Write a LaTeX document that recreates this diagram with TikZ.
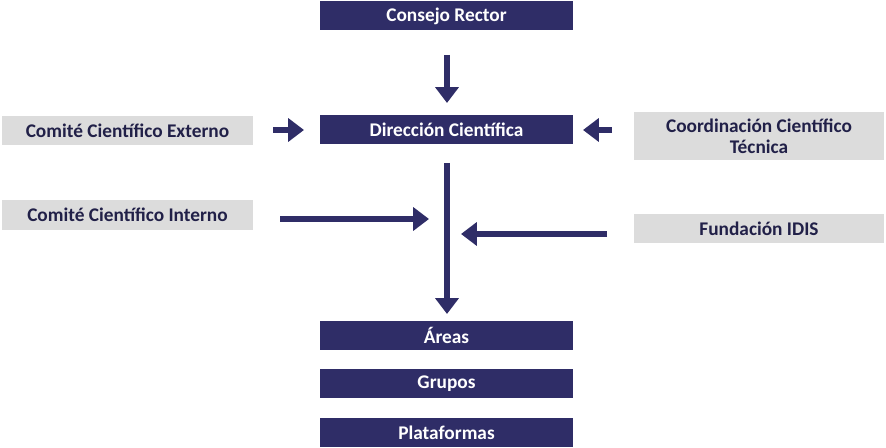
\documentclass[tikz,border=0pt]{standalone}
\usepackage{fontspec}
\setmainfont{Carlito}
\usetikzlibrary{arrows.meta}
\definecolor{navy}{HTML}{2F2D67}
\definecolor{panel}{HTML}{DCDCDC}
\tikzset{
  organo/.style={fill=navy, text=white, font=\bfseries\fontsize{11}{13}\selectfont, minimum width=5.06cm, minimum height=0.58cm, inner sep=0pt},
  apoyo/.style={fill=panel, text=navy!70!black, font=\bfseries\fontsize{11}{12}\selectfont, minimum width=5.02cm, inner sep=0pt, align=center},
  flecha/.style={navy, line width=3pt, -{Triangle[width=13pt,length=9pt]}}
}
\begin{document}
\begin{tikzpicture}[x=0.02cm,y=-0.02cm]
  \useasboundingbox (0,0) rectangle (886,448);
  % central column
  \node[organo] (consejo) at (446.5,16) {Consejo Rector};
  \node[organo] (direccion) at (446.5,129.5) {Dirección Científica};
  \node[organo] (areas) at (446.5,335.5) {Áreas};
  \node[organo] (grupos) at (446.5,383.5) {Grupos};
  \node[organo] (plataformas) at (446.5,432.5) {Plataformas};
  % side bodies
  \node[apoyo, minimum height=0.58cm] (externo) at (127.5,130.5) {Comité Científico Externo};
  \node[apoyo, minimum height=0.96cm] (coordinacion) at (759,136) {Coordinación Científico\\Técnica};
  \node[apoyo, minimum height=0.6cm] (interno) at (127.5,215) {Comité Científico Interno};
  \node[apoyo, minimum height=0.58cm] (idis) at (759,228.5) {Fundación IDIS};
  % arrow ends
  \coordinate (c1) at (447,55);
  \coordinate (c2) at (447,103);
  \coordinate (c3) at (273,130);
  \coordinate (c4) at (304,130);
  \coordinate (c5) at (612,130);
  \coordinate (c6) at (583,130);
  \coordinate (c7) at (447,163);
  \coordinate (c8) at (447,314);
  \coordinate (c9) at (280,219);
  \coordinate (c10) at (429,219);
  \coordinate (c11) at (607,234);
  \coordinate (c12) at (461,234);
  % arrows
  \draw[flecha] (c1) -- (c2);
  \draw[flecha] (c3) -- (c4);
  \draw[flecha] (c5) -- (c6);
  \draw[flecha] (c7) -- (c8);
  \draw[flecha] (c9) -- (c10);
  \draw[flecha] (c11) -- (c12);
\end{tikzpicture}
\end{document}
